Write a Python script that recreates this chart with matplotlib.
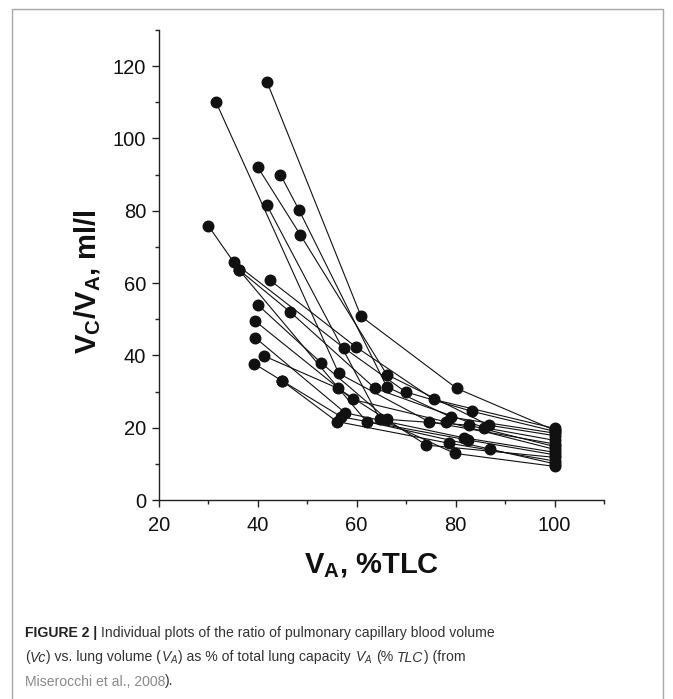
import matplotlib
matplotlib.use("Agg")
import matplotlib.pyplot as plt
from matplotlib.ticker import MultipleLocator
from matplotlib.patches import Rectangle

plt.rcParams["font.family"] = ["Liberation Sans", "DejaVu Sans"]
plt.rcParams["mathtext.fontset"] = "custom"
plt.rcParams["mathtext.rm"] = "Liberation Sans"
plt.rcParams["mathtext.bf"] = "Liberation Sans:bold"
plt.rcParams["mathtext.it"] = "Liberation Sans:italic"

# one row per subject: lung volume (% TLC) and Vc/VA (ml/l)
VA_PCT = [
    [41.9, 60.9, 80.2, 100],
    [31.6, 56.4, 74.7, 100],
    [40.0, 48.6, 66.1, 86.7, 100],
    [44.6, 48.4, 66.1, 79.1, 100],
    [41.8, 64.7, 79.8, 100],
    [30.0, 35.2, 57.4, 69.9, 83.4, 100],
    [36.2, 46.5, 63.7, 85.8, 100],
    [42.5, 59.8, 75.6, 100],
    [40.0, 52.8, 66.2, 82.7, 100],
    [39.4, 59.2, 78.1, 100],
    [39.5, 57.7, 81.7, 100],
    [41.2, 56.2, 74.1, 100],
    [39.3, 44.9, 56.0, 78.7, 100],
    [44.9, 56.9, 82.5, 100],
    [36.2, 62.0, 86.9, 100],
]
VC_VA = [
    [115.6, 50.8, 30.9, 19.3],
    [110.0, 35.0, 21.6, 15.5],
    [92.1, 73.4, 34.7, 20.7, 17.8],
    [90.0, 80.1, 31.3, 22.9, 18.5],
    [81.7, 22.4, 12.9, 9.3],
    [75.9, 65.7, 42.1, 29.9, 24.5, 19.0],
    [63.7, 52.1, 30.9, 20.0, 16.5],
    [60.8, 42.4, 27.8, 19.8],
    [54.0, 38.0, 22.3, 20.7, 14.8],
    [49.6, 27.8, 21.6, 14.0],
    [44.9, 24.1, 17.2, 13.2],
    [39.9, 30.9, 15.2, 11.8],
    [37.7, 33.0, 21.7, 15.7, 10.8],
    [33.0, 23.0, 16.6, 12.5],
    [63.7, 21.7, 14.1, 10.0],
]

X_TICKS = [20, 40, 60, 80, 100]
Y_TICKS = [0, 20, 40, 60, 80, 100, 120]

W, H = 673, 699
fig = plt.figure(figsize=(W / 100, H / 100), dpi=100)

# thin page frame round the figure panel
fig.patches.append(Rectangle((12 / W, -0.05), 651 / W, 1.05 - 9 / H,
                             transform=fig.transFigure, fill=False,
                             edgecolor="#a8a8a8", lw=1.0, clip_on=False))

ax = fig.add_axes([158.7 / W, 199 / H, 445.3 / W, 470 / H])

ink = "#111111"
for xs, ys in zip(VA_PCT, VC_VA):
    ax.plot(xs, ys, color=ink, lw=0.8, zorder=2)
for xs, ys in zip(VA_PCT, VC_VA):
    ax.plot(xs, ys, ls="none", marker="o", ms=7.6, mfc=ink, mec=ink,
            zorder=3)

ax.set_xlim(20, 110)
ax.set_ylim(0, 130)
ax.set_xticks(X_TICKS)
ax.set_yticks(Y_TICKS)
ax.xaxis.set_minor_locator(MultipleLocator(10))
ax.yaxis.set_minor_locator(MultipleLocator(10))
for side in ("top", "right"):
    ax.spines[side].set_visible(False)
for side in ("left", "bottom"):
    ax.spines[side].set_linewidth(1.0)
    ax.spines[side].set_color("#222222")
ax.tick_params(which="major", length=5, width=1.0, color="#222222",
               labelsize=14.5, labelcolor=ink)
ax.tick_params(which="minor", length=2.8, width=1.0, color="#222222")
ax.tick_params(axis="y", pad=4)
ax.tick_params(axis="x", pad=6.5)

fig.text(88 / W, 1 - 282 / H, r"$\mathbf{V_C/V_A}$, ml/l", rotation=90,
         ha="center", va="center", fontsize=21, fontweight="bold",
         color=ink)
fig.text(372 / W, 1 - 573 / H, r"$\mathbf{V_A}$, %TLC", ha="center",
         va="baseline", fontsize=21, fontweight="bold", color=ink)

# caption, laid out piece by piece
cap_size = 10.1
body = dict(fontsize=cap_size, color="#333333")
bold = dict(fontsize=cap_size, color="#222222", fontweight="bold")
ital = dict(body, style="italic")
link = dict(body, color="#8a8a8a")

renderer = fig.canvas.get_renderer()


def text_width(s, kw):
    t = fig.text(0, 0, s, **kw)
    w = t.get_window_extent(renderer).width
    t.remove()
    return w


def draw_line(x_px, base_px, pieces):
    x = x_px
    for s, kw in pieces:
        lead = len(s) - len(s.lstrip(" "))
        trail = len(s) - len(s.rstrip(" "))
        core = s.strip(" ")
        sp = text_width("x x", kw) - text_width("xx", kw)
        x += lead * sp
        if core:
            t = fig.text(x / W, 1 - base_px / H, core, ha="left",
                         va="baseline", **kw)
            x += t.get_window_extent(renderer).width
        x += trail * sp


draw_line(25, 637.3, [
    ("FIGURE 2 |", bold),
    (" Individual plots of the ratio of pulmonary capillary blood volume",
     body),
])
draw_line(25, 661.5, [
    ("(", body), ("Vc", ital), (") vs. lung volume (", body),
    (r"$V_A$", ital), (") as % of total lung capacity ", body),
    (r"$V_A$", ital), (" (% ", body), ("TLC", ital), (") (from", body),
])
draw_line(25, 685.5, [
    ("Miserocchi et al., 2008", link), (").", body),
])

fig.savefig("out.png", dpi=100)
